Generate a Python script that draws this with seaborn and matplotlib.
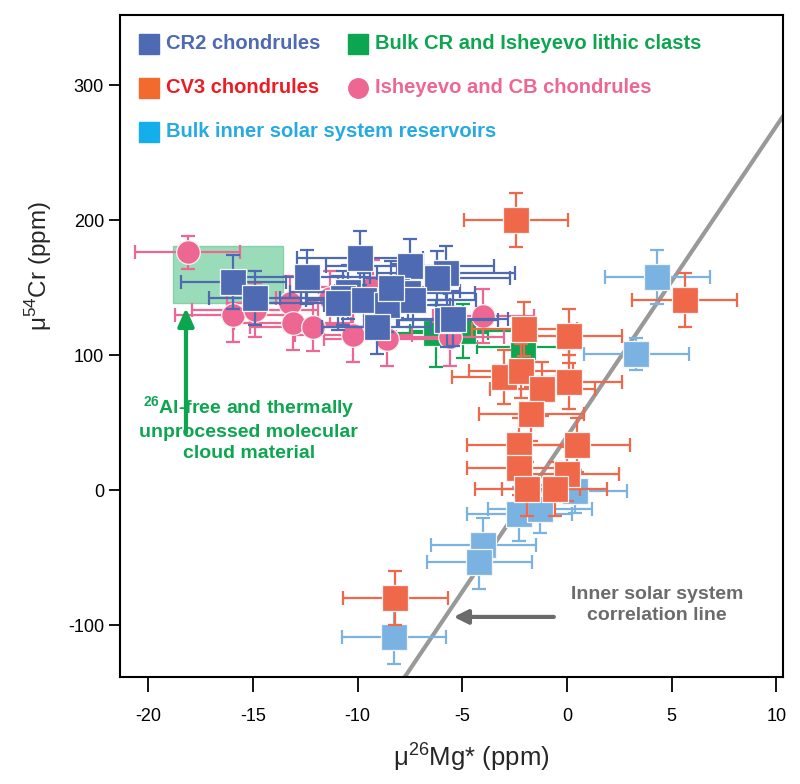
import matplotlib
matplotlib.use("Agg")
import matplotlib.pyplot as plt
import seaborn as sns
import pandas as pd
import numpy as np
from matplotlib.patches import Rectangle

# ---------------- data ----------------
cr2_x = [-15.94, -14.90, -12.42, -9.89, -7.50, -5.79, -6.22, -8.10, -7.58, -10.44,
         -10.71, -10.92, -9.69, -8.61, -9.09, -5.72, -5.43, -7.34, -8.40]
cr2_y = [153.9, 142.0, 158.0, 172.1, 165.9, 161.0, 156.8, 147.6, 145.7, 146.9,
         142.0, 138.7, 140.7, 137.0, 121.0, 125.9, 126.4, 140.7, 149.4]
cr2_xerr = [2.5, 2.2, 3.0, 3.0, 4.0, 3.3, 3.5, 3.0, 3.2, 2.8,
            3.0, 3.5, 2.8, 3.0, 2.6, 2.4, 2.6, 3.0, 2.5]
cr2_yerr = [20, 20, 20, 20, 20, 20, 20, 20, 20, 20,
            20, 20, 20, 20, 20, 20, 20, 20, 20]

cv3_x = [-2.44, 5.62, -2.04, 0.10, -3.00, -2.20, -1.18, 0.10, -1.70, -2.29,
         0.49, -2.28, 0.00, -1.90, -0.59, -8.21]
cv3_y = [200, 141, 119, 114, 84, 88, 75, 80, 56, 33,
         33, 16, 12, 1, 1, -80]
cv3_xerr = [2.5, 2.5, 2.5, 2.5, 2.5, 2.5, 2.5, 2.5, 2.5, 2.5,
            2.5, 2.5, 2.5, 2.5, 2.5, 2.5]
cv3_yerr = [20, 20, 20, 20, 20, 20, 20, 20, 20, 20,
            20, 20, 20, 20, 20, 20]

blk_x = [-6.28, -4.98, -2.09]
blk_y = [116, 118, 106]
blk_xerr = [2.5, 2.5, 2.2]
blk_yerr = [25, 20, 20]

pink_x = [-18.11, -15.94, -14.90, -13.23, -13.10, -12.12, -11.32, -10.21, -8.61, -9.25, -4.00, -5.59]
pink_y = [176.1, 129.6, 133.3, 138.7, 123.5, 121.0, 142.0, 114.8, 111.6, 150.6, 128.9, 113.6]
pink_xerr = [2.5, 2.8, 3.0, 3.0, 2.8, 3.0, 2.6, 2.8, 3.0, 2.6, 2.4, 2.6]
pink_yerr = [12, 20, 20, 20, 20, 18, 20, 20, 20, 20, 20, 22]

inner_x = [4.31, 3.30, 0.38, -2.28, -1.29, -4.00, -4.19, -8.26]
inner_y = [158, 101, -1, -18, -14, -41, -53, -109]
inner_xerr = [2.5, 2.5, 2.5, 2.5, 2.5, 2.5, 2.5, 2.5]
inner_yerr = [20, 12, 16, 20, 18, 20, 20, 20]

# correlation line
line_slope = 23.0
line_intercept = 39.8
line_x = [-8.0, 10.5]

# shaded molecular-cloud box
box_x = [-18.8, -13.56]
box_y = [138.5, 180.7]

legend_labels = ["CR2 chondrules", "Bulk CR and Isheyevo lithic clasts",
                 "CV3 chondrules", "Isheyevo and CB chondrules",
                 "Bulk inner solar system reservoirs"]

# ---------------- style ----------------
sns.set_theme(style="ticks")
plt.rcParams['font.family'] = ['Liberation Sans', 'DejaVu Sans']
plt.rcParams['mathtext.fontset'] = 'custom'
plt.rcParams['mathtext.rm'] = 'Liberation Sans'
plt.rcParams['mathtext.bf'] = 'Liberation Sans:bold'
plt.rcParams['axes.unicode_minus'] = False

c_cr2 = "#4E6AB2"
c_cv3 = "#F0684A"
c_blk = "#0DA650"
c_pink = "#EE6692"
c_inner = "#7AB3E1"

fig = plt.figure(figsize=(8.0, 7.84), dpi=100)
ax = fig.add_axes([0.15, 0.1365, 0.829, 0.8445])

sq = 340
ci = 290

def series(x, y, xe, ye, color, marker, size, z):
    ax.errorbar(x, y, xerr=xe, yerr=ye, fmt='none', ecolor=color,
                elinewidth=1.6, capsize=5, capthick=1.6, zorder=z)
    df = pd.DataFrame({"x": x, "y": y})
    sns.scatterplot(data=df, x="x", y="y", ax=ax, color=color, marker=marker,
                    s=size, edgecolor="#f4f4f4", linewidth=0.9, zorder=z + 0.5,
                    legend=False)

# line
lx = np.array(line_x)
ax.plot(lx, line_slope * lx + line_intercept, color="#999999", lw=3, zorder=1.5)

# shaded box
ax.add_patch(Rectangle((box_x[0], box_y[0]), box_x[1] - box_x[0], box_y[1] - box_y[0],
                       facecolor="#8FD9B2", edgecolor="#7ccf9f", lw=1, alpha=0.9, zorder=1))

series(inner_x, inner_y, inner_xerr, inner_yerr, c_inner, 's', sq, 2)
series(blk_x, blk_y, blk_xerr, blk_yerr, c_blk, 's', sq, 3)
series(pink_x, pink_y, pink_xerr, pink_yerr, c_pink, 'o', ci, 4)
series(cv3_x, cv3_y, cv3_xerr, cv3_yerr, c_cv3, 's', sq, 5)
series(cr2_x, cr2_y, cr2_xerr, cr2_yerr, c_cr2, 's', sq, 6)

ax.set_xlim(-21.35, 10.32)
ax.set_ylim(-138.5, 352)
ax.set_xticks([-20, -15, -10, -5, 0, 5, 10])
ax.set_yticks([-100, 0, 100, 200, 300])
ax.tick_params(axis='both', direction='out', length=8, width=1.3, labelsize=13,
               colors='black')
ax.tick_params(axis='x', length=11, pad=11)
for s in ax.spines.values():
    s.set_linewidth(1.5)
    s.set_color('black')

ax.set_xlabel(r"μ$^{26}$Mg* (ppm)", fontsize=18.5)
ax.set_ylabel(r"μ$^{54}$Cr (ppm)", fontsize=17.5)
ax.xaxis.set_label_coords(0.53, -0.095)
ax.yaxis.set_label_coords(-0.10, 0.62)

# legend (manual, in axes coordinates)
leg_fs = 14.5
leg_items = [
    (0.043, 0.9565, 's', c_cr2, legend_labels[0], "#4E6AB2"),
    (0.359, 0.9565, 's', c_blk, legend_labels[1], "#0DA650"),
    (0.043, 0.890, 's', "#F26A2E", legend_labels[2], "#ED1C24"),
    (0.359, 0.890, 'o', "#EE6692", legend_labels[3], "#EE6692"),
    (0.043, 0.8235, 's', "#14AEEB", legend_labels[4], "#27A9E1"),
]
for (mx, my, mk, mc, lab, tc) in leg_items:
    ax.plot([mx], [my], marker=mk, markersize=14, color=mc, mec=mc,
            transform=ax.transAxes, clip_on=False, zorder=10, linestyle='none')
    ax.text(mx + 0.026, my, lab, transform=ax.transAxes, fontsize=leg_fs,
            fontweight='bold', color=tc, va='center', ha='left', zorder=10)

# green annotation
ax.annotate("", xy=(-18.2, 137), xytext=(-18.2, 40),
            arrowprops=dict(arrowstyle="-|>,head_length=0.9,head_width=0.4",
                            color="#0DA650", lw=3), zorder=8)
ax.text(-15.2, 46, r"$\mathbf{^{26}}$Al-free and thermally" + "\nunprocessed molecular\ncloud material",
        color="#0DA650", fontsize=14, fontweight='bold', ha='center', va='center',
        linespacing=1.3, zorder=8)

# gray annotation
ax.annotate("", xy=(-5.55, -94), xytext=(-0.5, -94),
            arrowprops=dict(arrowstyle="-|>,head_length=0.7,head_width=0.35",
                            color="#6B6B6B", lw=3), zorder=8)
ax.text(4.3, -85, "Inner solar system\ncorrelation line", color="#6B6B6B",
        fontsize=14, fontweight='bold', ha='center', va='center',
        linespacing=1.3, zorder=8)

fig.savefig("out.png", dpi=100)
